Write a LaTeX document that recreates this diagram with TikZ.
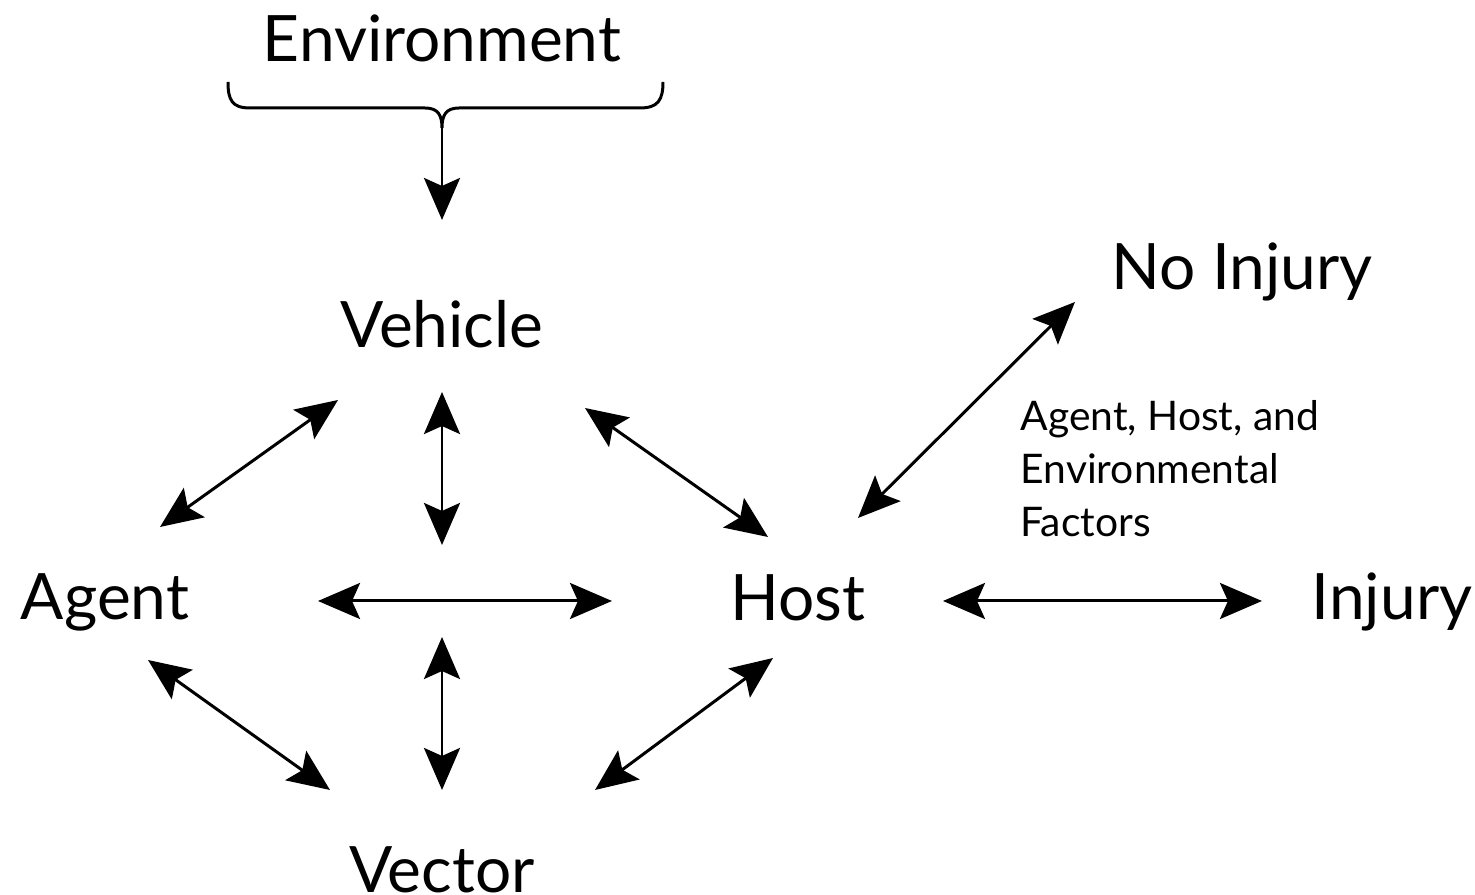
\documentclass[tikz,border=0pt]{standalone}
\usepackage{fontspec}
\setmainfont{Lato}
\usetikzlibrary{arrows.meta}
\begin{document}
\begin{tikzpicture}
  [x=0.01cm,y=-0.01cm,
   every node/.style={inner sep=0pt,anchor=base,font=\fontsize{18.2}{22}\selectfont},
   tip/.style={>={Stealth[length=4.2mm,width=3.6mm,inset=0.8mm]}},
   link/.style={tip,<->,line width=0.85pt}]
  \useasboundingbox (0,0) rectangle (1475,895);
  % labels
  \node (env) at (442,62) {Environment};
  \node (vehicle) at (442,348) {Vehicle};
  \node (noinj) at (1242,290) {No Injury};
  \node (agent) at (105,620) {Agent};
  \node (host) at (798,621) {Host};
  \node (injury) at (1392,620) {Injury};
  \node (vector) at (442,893) {Vector};
  \node (factors) [anchor=north west,align=left,font=\fontsize{11.6}{15}\selectfont] at (1020,400)
    {Agent, Host, and\\Environmental\\Factors};
  % brace under Environment
  \coordinate (bt) at (442,128);
  \draw[line width=0.85pt] (228,82) .. controls (228,100) and (232,108) .. (250,108) -- (425,108)
    .. controls (438,108) and (442,115) .. (bt)
    .. controls (442,115) and (446,108) .. (459,108) -- (640,108)
    .. controls (658,108) and (663,100) .. (663,82);
  % arrow ends
  \coordinate (e1) at (442,220);
  \coordinate (vh1) at (338,400);  \coordinate (ag1) at (160,527);
  \coordinate (vh2) at (442,392);  \coordinate (md1) at (442,545);
  \coordinate (vh3) at (585,408);  \coordinate (hs1) at (768,537);
  \coordinate (ag2) at (318,601);  \coordinate (hs2) at (612,601);
  \coordinate (md2) at (442,637);  \coordinate (vc1) at (442,790);
  \coordinate (ag3) at (148,660);  \coordinate (vc2) at (330,790);
  \coordinate (hs3) at (773,658);  \coordinate (vc3) at (595,790);
  \coordinate (hs4) at (858,518);  \coordinate (ni1) at (1075,302);
  \coordinate (hs5) at (943,601);  \coordinate (in1) at (1262,601);
  % connectors
  \draw[tip,->,line width=0.85pt] (bt) -- (e1);
  \draw[link] (vh1) -- (ag1);
  \draw[link] (vh2) -- (md1);
  \draw[link] (vh3) -- (hs1);
  \draw[link] (ag2) -- (hs2);
  \draw[link] (md2) -- (vc1);
  \draw[link] (ag3) -- (vc2);
  \draw[link] (hs3) -- (vc3);
  \draw[link] (hs4) -- (ni1);
  \draw[link] (hs5) -- (in1);
\end{tikzpicture}
\end{document}
